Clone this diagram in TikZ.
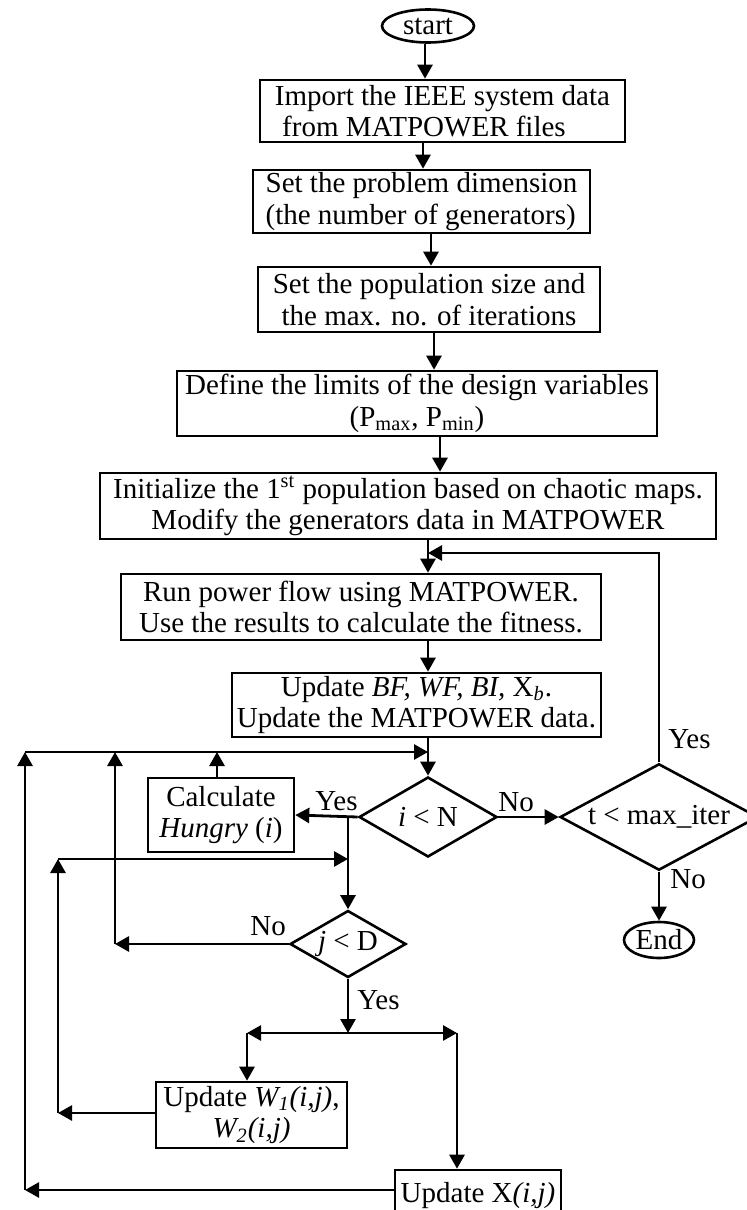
\documentclass[tikz,border=0pt]{standalone}
\usepackage{fontspec}
\setmainfont{Liberation Serif}
\usetikzlibrary{shapes.geometric,arrows.meta}
\tikzset{
  txt/.style={font=\fontsize{14.5}{15.8}\selectfont},
  box/.style={draw, line width=1.3pt, inner sep=0pt, align=center, txt},
  dec/.style={draw, diamond, aspect=1.7, line width=1.3pt, inner sep=0pt, txt},
  term/.style={draw, ellipse, line width=1.3pt, inner sep=0pt, txt},
  arr/.style={line width=1.4pt, -{Triangle[length=7pt,width=7.5pt]}},
  lbl/.style={inner sep=0pt, txt}
}
\begin{document}
\begin{tikzpicture}[x=0.5pt,y=-0.5pt]
\useasboundingbox (0,0) rectangle (747,1210);
\clip (0,0) rectangle (747,1210);
% nodes
\node[term, minimum width=46pt, minimum height=16.5pt] (start) at (428,26) {start};
\node[box, minimum width=182.5pt, minimum height=31pt, align=left] (b1) at (442.5,111)
  {Import the IEEE system data\\\hspace{0.25em}from MATPOWER files};
\node[box, minimum width=168.5pt, minimum height=31.5pt, align=left] (b2) at (421.5,201.5)
  {Set the problem dimension\\(the number of generators)};
\node[box, minimum width=171pt, minimum height=32.5pt] (b3) at (429,299.5)
  {Set the population size and\\the max. no. of iterations};
\node[box, minimum width=240pt, minimum height=32.5pt] (b4) at (417,403.5)
  {Define the limits of the design variables\\(P\textsubscript{max}, P\textsubscript{min})};
\node[box, minimum width=308pt, minimum height=33pt] (b5) at (408,506)
  {Initialize the 1\textsuperscript{st} population based on chaotic maps.\\Modify the generators data in MATPOWER};
\node[box, minimum width=240pt, minimum height=33pt] (b6) at (361,607)
  {Run power flow using MATPOWER.\\Use the results to calculate the fitness.};
\node[box, minimum width=184.5pt, minimum height=32pt] (b7) at (416.5,705)
  {Update \textit{BF, WF, BI,} X\textsubscript{\textit{b}}.\\Update the MATPOWER data.};
\node[dec, minimum width=69pt, minimum height=40pt] (d1) at (428,817) {\textit{i} < N};
\node[dec, minimum width=99pt, minimum height=50pt] (d2) at (659,817) {t < max\_iter};
\node[term, minimum width=35pt, minimum height=18pt] (end) at (659,940) {End};
\node[box, minimum width=73pt, minimum height=37pt] (c1) at (221,815)
  {Calculate\\\textit{Hungry} (\textit{i})};
\node[dec, minimum width=58pt, minimum height=33.5pt] (d3) at (348,944) {\textit{j} < D};
\node[box, minimum width=95.5pt, minimum height=33pt] (bw) at (251.5,1115)
  {Update \textit{W\textsubscript{1}(i,j)},\\\textit{W\textsubscript{2}(i,j)}};
\node[box, minimum width=83pt, minimum height=26pt] (bx) at (478,1196)
  {Update X\textit{(i,j)}};
% helper coordinates
\coordinate (x425) at (425,0);
\coordinate (x423) at (423,0);
\coordinate (x431) at (431,0);
\coordinate (x434) at (434,0);
\coordinate (x440) at (440,0);
\coordinate (x428) at (428,0);
\coordinate (jLoop) at (428,553);
\coordinate (jTop) at (428,752);
\coordinate (topL) at (25,752);
\coordinate (topM) at (115,752);
\coordinate (topC) at (217,752);
\coordinate (jYes) at (348,817);
\coordinate (jSec) at (348,859);
\coordinate (secL) at (58,859);
\coordinate (noL) at (115,944);
\coordinate (jSplit) at (348,1033);
\coordinate (splL) at (247,1033);
\coordinate (splR) at (457,1033);
\coordinate (wL) at (58,1113);
\coordinate (xL) at (25,1190);
% main chain
\draw[arr] (start.south -| x425) -- (b1.north -| x425);
\draw[arr] (b1.south -| x423) -- (b2.north -| x423);
\draw[arr] (b2.south -| x431) -- (b3.north -| x431);
\draw[arr] (b3.south -| x434) -- (b4.north -| x434);
\draw[arr] (b4.south -| x440) -- (b5.north -| x440);
\draw[arr] (b5.south -| x428) -- (b6.north -| x428);
\draw[arr] (b6.south -| x428) -- (b7.north -| x428);
\draw[arr] (b7.south -| x428) -- (d1.north);
% outer loop
\draw[arr] (d1.east) -- (d2.west);
\node[lbl, anchor=base west] (no1) at (498,811) {No};
\draw[arr] (d2.north) -- (d2.north |- jLoop) -- (jLoop);
\node[lbl, anchor=base west] (yes2) at (668,748) {Yes};
\draw[arr] (d2.south) -- (end.north);
\node[lbl, anchor=base west] (no2) at (670,888) {No};
% inner structure
\draw[arr] (d1.west) -- (c1.east);
\node[lbl, anchor=base east] (yes1) at (358,810) {Yes};
\draw[arr] (jYes) -- (d3.north);
\draw[arr] (c1.north -| topC) -- (topC);
\draw[arr] (topL) -- (jTop);
\draw[arr] (d3.west) -- (noL);
\node[lbl, anchor=base west] (no3) at (250,935) {No};
\draw[arr] (noL) -- (topM);
\draw[arr] (secL) -- (jSec);
\draw[arr] (d3.south) -- (jSplit);
\node[lbl, anchor=base west] (yes3) at (357,1009) {Yes};
\draw[arr] (jSplit) -- (splL);
\draw[arr] (jSplit) -- (splR);
\draw[arr] (splL) -- (bw.north -| splL);
\draw[arr] (splR) -- (bx.north -| splR);
\draw[arr] (bw.west |- wL) -- (wL);
\draw[arr] (wL) -- (secL);
\draw[arr] (bx.west |- xL) -- (xL);
\draw[arr] (xL) -- (topL);
\end{tikzpicture}
\end{document}
